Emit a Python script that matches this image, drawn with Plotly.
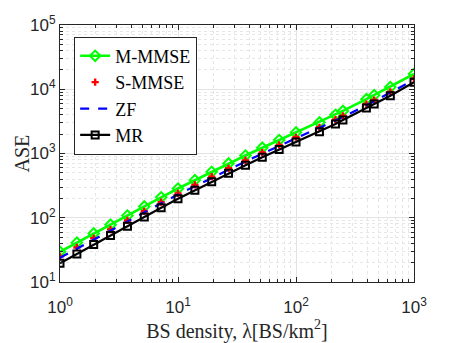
import plotly.graph_objects as go

# BS density (x) and area spectral efficiency per scheme
density = [1, 1.39, 1.93, 2.68, 3.73, 5.18, 7.2, 10, 13.9, 19.3, 26.8, 37.3,
           51.8, 72, 100, 158, 216, 250, 395, 460, 630, 1000]
ase_mmmse = [29.5, 41, 57, 78, 108, 150, 208, 285, 385, 520, 700, 930,
             1230, 1620, 2130, 3050, 4000, 4600, 7000, 8100, 10800, 17300]
ase_smmse = [24.8, 34.5, 47.9, 65.5, 90.8, 126, 175, 239, 324, 437, 588, 782,
             1034, 1361, 1790, 2563, 3361, 3866, 5882, 6807, 9076, 14540]
ase_zf = [23.8, 33.1, 46.0, 62.9, 87.1, 121, 168, 230, 310, 419, 565, 750,
          992, 1306, 1718, 2460, 3226, 3710, 5645, 6532, 8710, 13950]
ase_mr = [19.5, 27.3, 38.3, 52.7, 73.5, 103, 143, 198, 269, 364, 493, 655,
          872, 1149, 1510, 2180, 2880, 3310, 5110, 5910, 7940, 12900]

x_ticks = [1, 10, 100, 1000]
x_ticktext = ["10<sup>0</sup>", "10<sup>1</sup>", "10<sup>2</sup>", "10<sup>3</sup>"]
y_ticks = [10, 100, 1000, 10000, 100000]
y_ticktext = ["10<sup>1</sup>", "10<sup>2</sup>", "10<sup>3</sup>", "10<sup>4</sup>", "10<sup>5</sup>"]

serif = "Liberation Serif, Times New Roman"

fig = go.Figure()

fig.add_trace(go.Scatter(x=density, y=ase_mmmse, name="M-MMSE", mode="lines+markers",
                         line=dict(color="#00ff00", width=2.6),
                         marker=dict(symbol="diamond-open", size=8, color="#00ff00",
                                     line=dict(width=2))))
fig.add_trace(go.Scatter(x=density, y=ase_smmse, name="S-MMSE", mode="markers",
                         marker=dict(symbol="cross", size=6, color="#ff0000")))
fig.add_trace(go.Scatter(x=density, y=ase_zf, name="ZF", mode="lines",
                         line=dict(color="#0000ff", width=2.2, dash="dash")))
fig.add_trace(go.Scatter(x=density, y=ase_mr, name="MR", mode="lines+markers",
                         line=dict(color="#000000", width=2.2),
                         marker=dict(symbol="square-open", size=7, color="#000000",
                                     line=dict(width=2))))

axis_common = dict(
    type="log", automargin=False,
    showline=True, linecolor="#262626", linewidth=1, mirror="ticks",
    ticks="inside", ticklen=5, tickcolor="#262626",
    showgrid=True, gridcolor="#e3e3e3", gridwidth=1,
    zeroline=False,
    tickfont=dict(family="Liberation Sans, Arial", size=17, color="#262626"),
    minor=dict(dtick="D1", ticks="inside", ticklen=3, tickcolor="#262626",
               showgrid=True, gridcolor="#e6e6e6", griddash="dot"),
)

fig.update_xaxes(axis_common, range=[0, 3], tickvals=x_ticks, ticktext=x_ticktext,
                 ticklabelstandoff=10,
                 title=dict(text="BS density, λ[BS/km<sup>2</sup>]", standoff=0,
                            font=dict(family=serif, size=20, color="#262626")))
fig.update_yaxes(axis_common, range=[1, 5], tickvals=y_ticks, ticktext=y_ticktext)

# y title as an annotation so it can sit closer to the page edge
fig.add_annotation(text="ASE", xref="paper", yref="paper", x=-0.11, y=0.5,
                   xanchor="center", yanchor="middle", textangle=-90, showarrow=False,
                   font=dict(family=serif, size=20, color="#262626"))

# the page body adds an 8px offset, so margins are shifted to compensate
fig.update_layout(
    width=457, height=343,
    margin=dict(l=52, r=51, t=17, b=69),
    plot_bgcolor="white", paper_bgcolor="white",
    legend=dict(x=0.04, y=0.955, xanchor="left", yanchor="top",
                bgcolor="white", bordercolor="#262626", borderwidth=1,
                font=dict(family=serif, size=18, color="#000000"),
                itemwidth=30, tracegroupgap=0),
)

fig.write_html("out.html")
